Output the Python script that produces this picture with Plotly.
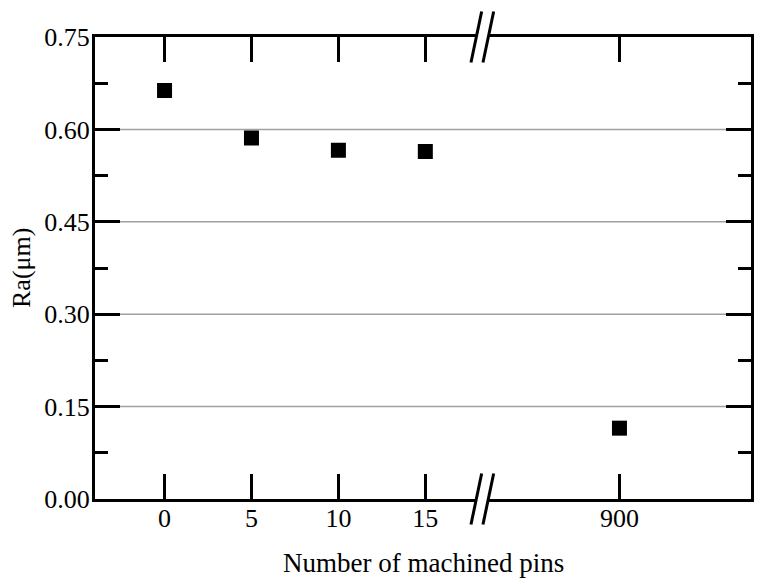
import plotly.graph_objects as go

# data (broken x axis: 0-15 and 900)
pins_low = [0, 5, 10, 15]
ra_low = [0.663, 0.586, 0.566, 0.564]
pins_high = [900]
ra_high = [0.115]

y_ticks = [0.0, 0.15, 0.30, 0.45, 0.60, 0.75]
y_ticktext = ["0.00", "0.15", "0.30", "0.45", "0.60", "0.75"]

FONT = "Liberation Serif"
split_left, split_right = 0.5812, 0.5995
# page body adds 8px, so margins are shifted by that
L, R, T, B = 87, 21, 29, 94

fig = go.Figure()
marker = dict(symbol="square", size=15, color="black")
fig.add_trace(go.Scatter(x=pins_low, y=ra_low, mode="markers", marker=marker,
                         xaxis="x", yaxis="y", showlegend=False))
# right part sits on y2, which has the same fixed range as y and draws the right frame edge
fig.add_trace(go.Scatter(x=pins_high, y=ra_high, mode="markers", marker=marker,
                         xaxis="x2", yaxis="y2", showlegend=False))

xcommon = dict(showline=True, linewidth=3, linecolor="black", mirror="ticks",
               ticks="inside", ticklen=25, tickwidth=3, tickcolor="black",
               showgrid=False, zeroline=False, ticklabelstandoff=-6,
               tickfont=dict(family=FONT, size=26, color="black"))
ycommon = dict(range=[0, 0.75], tickvals=y_ticks, showline=True, linewidth=3,
               linecolor="black", ticks="inside", ticklen=25, tickwidth=3,
               tickcolor="black", showgrid=False, zeroline=False,
               minor=dict(dtick=0.075, ticks="inside", ticklen=13, tickwidth=3,
                          tickcolor="black", showgrid=False))

fig.update_layout(
    width=764, height=585,
    margin=dict(l=L, r=R, t=T, b=B),
    paper_bgcolor="white", plot_bgcolor="white",
    font=dict(family=FONT, color="black"),
    xaxis=dict(domain=[0, split_left], range=[-4, 17.93],
               tickvals=pins_low, anchor="y", **xcommon),
    xaxis2=dict(domain=[split_right, 1], range=[892.45, 907.57],
                tickvals=pins_high, anchor="y2", **xcommon),
    yaxis=dict(anchor="x", ticktext=y_ticktext, ticklabelstandoff=-3,
               tickfont=dict(family=FONT, size=26, color="black"), **ycommon),
    yaxis2=dict(anchor="x2", side="right", showticklabels=False, **ycommon),
)

# horizontal grid lines running across the axis break
for v in y_ticks[1:-1]:
    fig.add_shape(type="line", xref="paper", yref="y", x0=0, x1=1, y0=v, y1=v,
                  layer="below", line=dict(color="#a0a0a0", width=1.5))

# axis titles
fig.add_annotation(text="Number of machined pins", xref="paper", yref="paper",
                   x=0.5, y=0, yanchor="middle", yshift=-64, showarrow=False,
                   font=dict(family=FONT, size=27, color="black"))
fig.add_annotation(text="Ra(μm)", xref="paper", yref="paper", x=0, y=0.5,
                   xanchor="center", yanchor="middle", xshift=-74,
                   textangle=-90, showarrow=False,
                   font=dict(family=FONT, size=26, color="black"))

# "//" break marks on top and bottom axis lines
for anchor in (split_left, split_right):
    for yanchor in (0, 1):
        fig.add_shape(type="line", xref="paper", yref="paper",
                      xsizemode="pixel", ysizemode="pixel",
                      xanchor=anchor, yanchor=yanchor,
                      x0=-5.3, y0=-25.5, x1=5.4, y1=25.5,
                      line=dict(color="black", width=3))

fig.write_html("out.html")
